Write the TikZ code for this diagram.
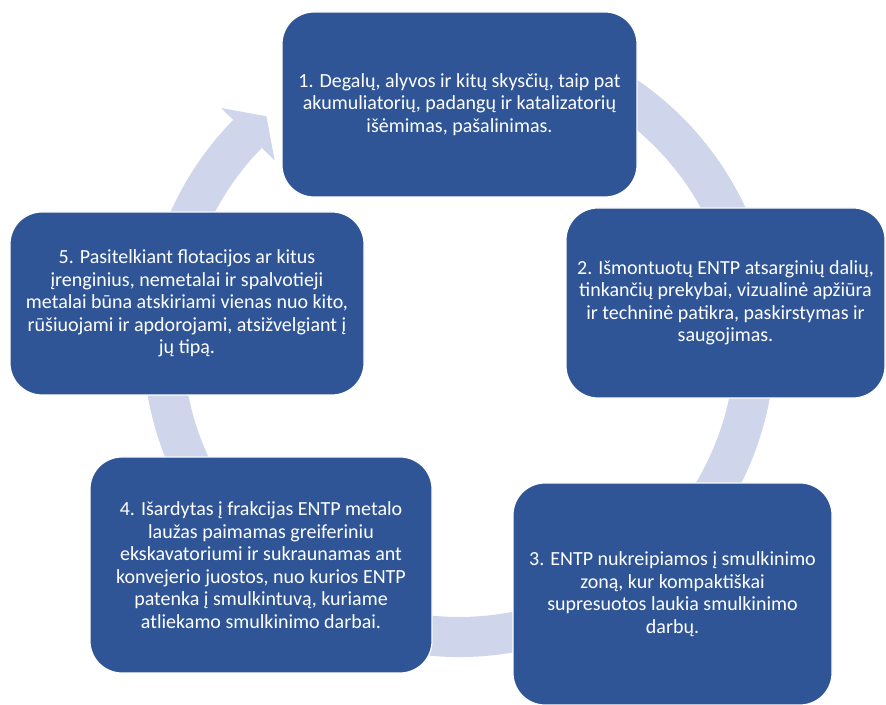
\documentclass[tikz,border=0pt]{standalone}
\usepackage{fontspec}
\setmainfont{Carlito}
\usepackage{tikz}
\usetikzlibrary{calc}

\definecolor{boxblue}{HTML}{2F5597}
\definecolor{ringblue}{HTML}{CFD5EA}

\begin{document}
\begin{tikzpicture}[x=1pt,y=1pt,
    stage/.style={draw=white,line width=1.2pt,fill=boxblue,rounded corners=32pt,
      text=white,align=center,inner sep=0pt,font=\fontsize{20}{22.5}\selectfont}]
  \useasboundingbox (0,0) rectangle (886,704);
  \coordinate (hub) at (459,363);
  \fill[ringblue] ($(hub)+(75:316)$) arc[start angle=75,end angle=-224.4,radius=316]
    -- ($(hub)+(135.6:333)$) -- ($(hub)+(130.6:296)$) -- ($(hub)+(135.6:258)$)
    -- ($(hub)+(135.6:276)$) arc[start angle=-224.4,end angle=75,radius=276] -- cycle;

  \node[stage,minimum width=355pt,minimum height=185pt] (s1) at (459.5,599.5)
    {1. Degalų, alyvos ir kitų skysčių, taip pat\\akumuliatorių, padangų ir katalizatorių\\išėmimas, pašalinimas.};
  \node[stage,minimum width=319pt,minimum height=190pt] (s2) at (725.5,401)
    {2. Išmontuotų ENTP atsarginių dalių,\\tinkančių prekybai, vizualinė apžiūra\\ir techninė patikra, paskirstymas ir\\saugojimas.};
  \node[stage,minimum width=319pt,minimum height=222pt] (s3) at (672.5,110)
    {3. ENTP nukreipiamos į smulkinimo\\zoną, kur kompaktiškai\\supresuotos laukia smulkinimo\\darbų.};
  \node[stage,minimum width=342pt,minimum height=216pt] (s4) at (261,139)
    {4. Išardytas į frakcijas ENTP metalo\\laužas paimamas greiferiniu\\ekskavatoriumi ir sukraunamas ant\\konvejerio juostos, nuo kurios ENTP\\patenka į smulkintuvą, kuriame\\atliekamo smulkinimo darbai.};
  \node[stage,minimum width=354pt,minimum height=183pt] (s5) at (187,400.5)
    {5. Pasitelkiant flotacijos ar kitus\\įrenginius, nemetalai ir spalvotieji\\metalai būna atskiriami vienas nuo kito,\\rūšiuojami ir apdorojami, atsižvelgiant į\\jų tipą.};
\end{tikzpicture}
\end{document}
